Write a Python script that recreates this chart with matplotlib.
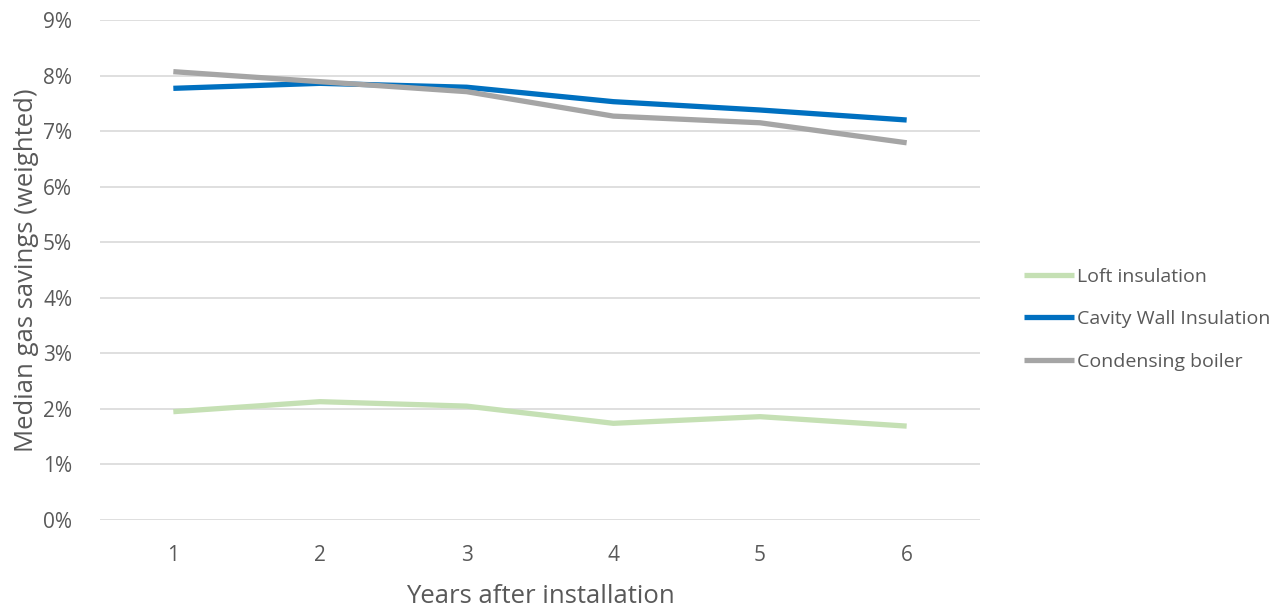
import matplotlib
matplotlib.use("Agg")
import matplotlib.pyplot as plt
from matplotlib.ticker import FuncFormatter

years = [1, 2, 3, 4, 5, 6]
loft = [1.95, 2.13, 2.05, 1.74, 1.86, 1.69]
cavity = [7.77, 7.86, 7.79, 7.53, 7.38, 7.20]
boiler = [8.07, 7.89, 7.71, 7.27, 7.15, 6.79]
series_names = ["Loft insulation", "Cavity Wall Insulation", "Condensing boiler"]
colors = ["#C5E0B4", "#0070C0", "#A5A5A5"]
yticks = list(range(0, 10))

plt.rcParams['font.family'] = ['Open Sans', 'DejaVu Sans']
txt = "#595959"

fig = plt.figure(figsize=(12.82, 6.07), dpi=100)
ax = fig.add_axes([100/1282, 1 - 520/607, 880/1282, 500/607])

for vals, name, c in zip([loft, cavity, boiler], series_names, colors):
    ax.plot(years, vals, color=c, lw=3.8, label=name, solid_capstyle='butt')

ax.set_xlim(0.5, 6.5)
ax.set_ylim(0, 9)
ax.set_yticks(yticks)
ax.yaxis.set_major_formatter(FuncFormatter(lambda v, p: f"{int(v)}%"))
ax.set_xticks(years)
ax.grid(axis='y', color='#D9D9D9', lw=1.2)
ax.set_axisbelow(True)
for s in ax.spines.values():
    s.set_visible(False)
ax.tick_params(length=0, labelsize=15, colors=txt)
ax.tick_params(axis='x', pad=18)
ax.tick_params(axis='y', pad=20)
ax.set_xlabel("Years after installation", fontsize=18.5, color=txt, labelpad=13)
ax.set_ylabel("Median gas savings (weighted)", fontsize=18.5, color=txt, labelpad=3)

leg = fig.legend(loc='upper left', bbox_to_anchor=(1006/1282, 1 - 250/607), frameon=False,
                 fontsize=14, labelcolor=txt, handlelength=2.6, handletextpad=0.15,
                 labelspacing=1.27)

fig.savefig("out.png", dpi=100)
